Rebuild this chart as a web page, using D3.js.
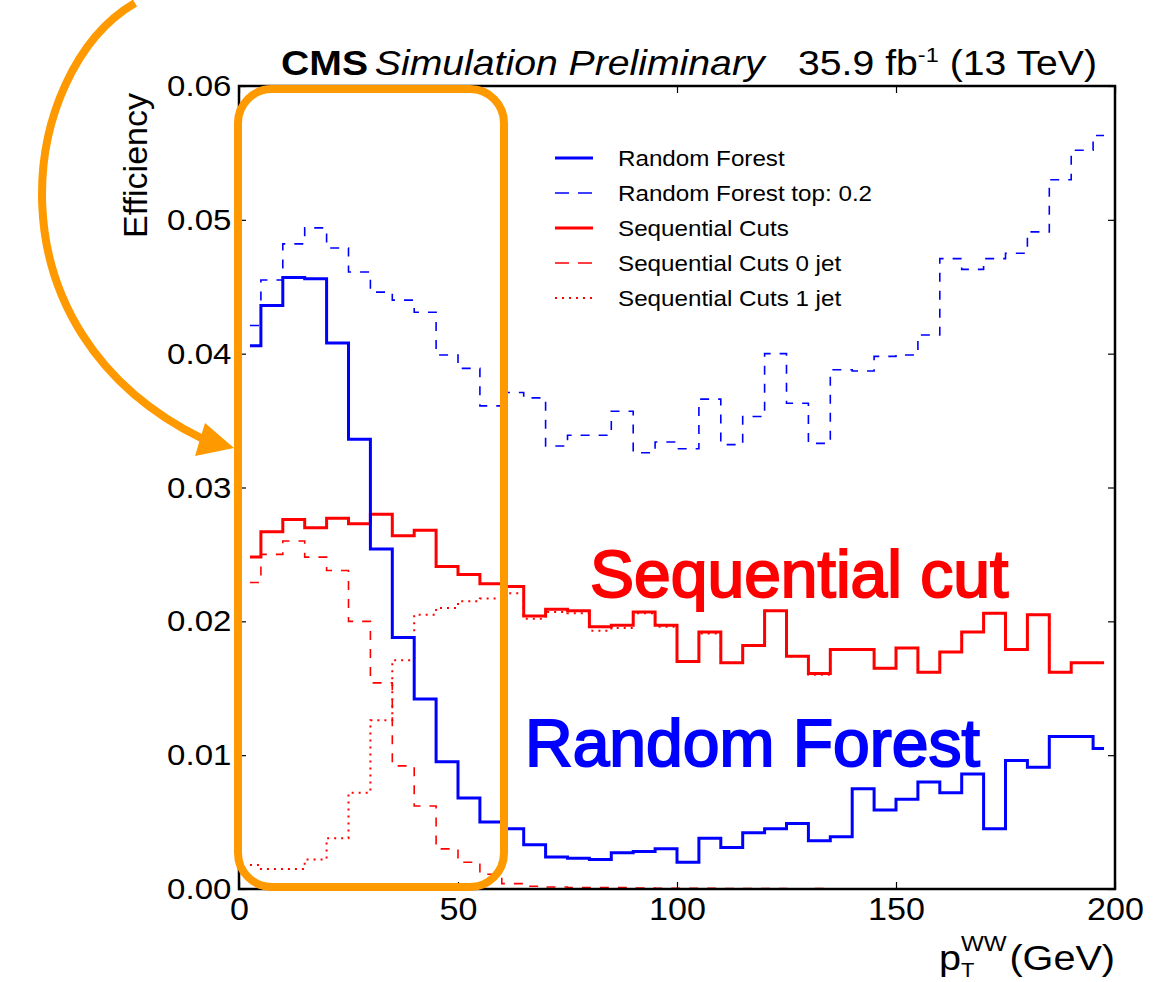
<!DOCTYPE html>
<html>
<head>
<meta charset="utf-8">
<script src="https://cdn.jsdelivr.net/npm/d3@7"></script>
<style>
  body { margin: 0; background: #fff; }
  text { font-family: "Liberation Sans", Arial, Helvetica, sans-serif; }
</style>
</head>
<body>
<div class="canvas"></div>
<script>
// bin centres of pT(WW), 5 GeV bins
const ptCenters = [2.5, 7.5, 12.5, 17.5, 22.5, 27.5, 32.5, 37.5, 42.5, 47.5,
  52.5, 57.5, 62.5, 67.5, 72.5, 77.5, 82.5, 87.5, 92.5, 97.5,
  102.5, 107.5, 112.5, 117.5, 122.5, 127.5, 132.5, 137.5, 142.5, 147.5,
  152.5, 157.5, 162.5, 167.5, 172.5, 177.5, 182.5, 187.5, 192.5, 197.5]

const randomForest = [0.0406, 0.0436, 0.0457, 0.0456, 0.0408, 0.0336, 0.0254, 0.0188, 0.0142, 0.0095,
  0.0068, 0.0050, 0.0045, 0.0033, 0.0024, 0.0023, 0.0022, 0.0027, 0.0028, 0.0030,
  0.0020, 0.0038, 0.0031, 0.0042, 0.0045, 0.0049, 0.0036, 0.0039, 0.0075, 0.0059,
  0.0067, 0.0080, 0.0072, 0.0086, 0.0045, 0.0096, 0.0091, 0.0114, 0.0114, 0.0105]

const randomForestTop = [0.0421, 0.0455, 0.0482, 0.0494, 0.0479, 0.0461, 0.0446, 0.0440, 0.0431, 0.0399,
  0.0389, 0.0361, 0.0371, 0.0367, 0.0331, 0.0339, 0.0339, 0.0357, 0.0326, 0.0334,
  0.0329, 0.0366, 0.0332, 0.0353, 0.0400, 0.0363, 0.0333, 0.0388, 0.0387, 0.0398,
  0.0399, 0.0414, 0.0471, 0.0463, 0.0471, 0.0475, 0.0491, 0.0530, 0.0552, 0.0563]

const seqCuts = [0.0248, 0.0267, 0.0276, 0.0270, 0.0277, 0.0273, 0.0280, 0.0264, 0.0268, 0.0241,
  0.0235, 0.0228, 0.0226, 0.0204, 0.0209, 0.0208, 0.0196, 0.0197, 0.0207, 0.0197,
  0.0170, 0.0192, 0.0169, 0.0182, 0.0208, 0.0174, 0.0161, 0.0179, 0.0179, 0.0165,
  0.0180, 0.0162, 0.0177, 0.0192, 0.0206, 0.0179, 0.0205, 0.0162, 0.0169, 0.0169]

const seqCuts0jet = [0.0229, 0.0250, 0.0260, 0.0248, 0.0238, 0.0200, 0.0154, 0.0092, 0.0062, 0.0030,
  0.0020, 0.0011, 0.0004, 0.0002, 0.00015, 0.0001, 0.0001, 0.0001, 0.00008, 0.00006,
  0.00005, 0.00005, 0.00004, 0.00003, 0.00003, 0.00002, 0.00003, 0.00002, 0.00001, 0.00001,
  0, 0, 0, 0, 0, 0, 0, 0, 0, 0]

const seqCuts1jet = [0.0018, 0.0015, 0.0015, 0.0022, 0.0038, 0.0072, 0.0126, 0.0171, 0.0205, 0.0210,
  0.0215, 0.0217, 0.0221, 0.0202, 0.0207, 0.0206, 0.0193, 0.0195, 0.0206, 0.0196,
  0.0170, 0.0191, 0.0169, 0.0182, 0.0208, 0.0174, 0.0160, 0.0179, 0.0179, 0.0165,
  0.0180, 0.0162, 0.0177, 0.0192, 0.0206, 0.0179, 0.0205, 0.0162, 0.0169, 0.0169]

const xTicks = [0, 50, 100, 150, 200]
const yTicks = [0, 0.01, 0.02, 0.03, 0.04, 0.05, 0.06]

const dims = { width: 1170, height: 982 }
const plot = { left: 239, right: 1115, top: 86, bottom: 889 }
const STRETCH = 1.1 // the plot text is a bit wide in the original

const svg = d3.select('.canvas')
  .append('svg')
  .attr('width', dims.width)
  .attr('height', dims.height)

svg.append('rect').attr('width', dims.width).attr('height', dims.height).attr('fill', '#fff')

const x = d3.scaleLinear().domain([0, 200]).range([plot.left, plot.right])
const y = d3.scaleLinear().domain([0, 0.06]).range([plot.bottom, plot.top])

// axes, ticks pointing inwards
const styleAxis = (g, fontSize) => {
  g.select('.domain').remove()
  g.selectAll('.tick line').attr('stroke', '#000').attr('stroke-width', 1.2)
  g.selectAll('.tick text')
    .attr('font-size', fontSize)
    .attr('fill', '#000')
    .attr('font-family', '"Liberation Sans", Arial, sans-serif')
    .attr('transform', `scale(${STRETCH},1)`)
}
const noLabel = () => ''

svg.append('g')
  .attr('transform', `translate(${plot.left},0)`)
  .call(d3.axisLeft(y).tickValues(yTicks).tickSize(-7).tickPadding(7).tickFormat(d3.format('.2f')))
  .call(g => styleAxis(g, 30))

svg.append('g')
  .attr('transform', `translate(${plot.right},0)`)
  .call(d3.axisRight(y).tickValues(yTicks).tickSize(-7).tickFormat(noLabel))
  .call(g => styleAxis(g, 30))

svg.append('g')
  .attr('transform', `translate(0,${plot.bottom})`)
  .call(d3.axisBottom(x).tickValues(xTicks).tickSize(-7).tickPadding(9).tickFormat(d3.format('d')))
  .call(g => styleAxis(g, 31))

svg.append('g')
  .attr('transform', `translate(0,${plot.top})`)
  .call(d3.axisTop(x).tickValues(xTicks).tickSize(-7).tickFormat(noLabel))
  .call(g => styleAxis(g, 30))

// histograms, drawn as steps around the bin centres
const step = d3.line()
  .x((d, i) => x(ptCenters[i]))
  .y(d => y(d))
  .curve(d3.curveStep)

const series = [
  { name: 'Random Forest', values: randomForest, color: '#0000ff', width: 3, dash: null },
  { name: 'Random Forest top: 0.2', values: randomForestTop, color: '#0000ff', width: 1.6, dash: '9,9' },
  { name: 'Sequential Cuts', values: seqCuts, color: '#ff0000', width: 3, dash: null },
  { name: 'Sequential Cuts 0 jet', values: seqCuts0jet, color: '#ff0000', width: 1.6, dash: '9,9' },
  { name: 'Sequential Cuts 1 jet', values: seqCuts1jet, color: '#ff0000', width: 2, dash: '2,5' }
]

const drawOrder = [3, 4, 2, 1, 0]
const graph = svg.append('g')
drawOrder.forEach(k => {
  const s = series[k]
  graph.append('path')
    .attr('class', 'line')
    .attr('fill', 'none')
    .attr('stroke', s.color)
    .attr('stroke-width', s.width)
    .attr('stroke-dasharray', s.dash)
    .attr('d', step(s.values))
})

// frame
svg.append('rect')
  .attr('x', plot.left).attr('y', plot.top)
  .attr('width', plot.right - plot.left).attr('height', plot.bottom - plot.top)
  .attr('fill', 'none').attr('stroke', '#000').attr('stroke-width', 2.5)

// legend
const legend = svg.append('g').attr('transform', 'translate(555,158)')
series.forEach((s, i) => {
  const row = legend.append('g').attr('transform', `translate(0,${i * 35})`)
  row.append('line')
    .attr('x1', 0).attr('x2', 38)
    .attr('stroke', s.color)
    .attr('stroke-width', s.width)
    .attr('stroke-dasharray', s.dash === '9,9' ? '14,9' : s.dash)
  row.append('text')
    .attr('transform', `translate(63,8) scale(${STRETCH},1)`)
    .attr('font-size', 22)
    .attr('fill', '#000')
    .text(s.name)
})

// axis titles
svg.append('text')
  .attr('transform', 'translate(147,93) rotate(-90)')
  .attr('text-anchor', 'end')
  .attr('font-size', 34)
  .text('Efficiency')

const xl = svg.append('g').attr('transform', `translate(0,970)`)
xl.append('text').attr('transform', `translate(1115,0) scale(${STRETCH},1)`)
  .attr('text-anchor', 'end').attr('font-size', 36).text('(GeV)')
xl.append('text').attr('transform', `translate(961,-19) scale(${STRETCH},1)`)
  .attr('font-size', 22).text('WW')
xl.append('text').attr('transform', `translate(961,7) scale(${STRETCH},1)`)
  .attr('font-size', 20).text('T')
xl.append('text').attr('transform', `translate(939,0) scale(${STRETCH},1)`)
  .attr('font-size', 36).text('p')

// CMS header
const HEAD = 1.12
const head = svg.append('text')
  .attr('transform', `translate(281,75) scale(${HEAD},1)`)
  .attr('font-size', 35)
head.append('tspan').attr('font-weight', 'bold').text('CMS')
head.append('tspan').attr('font-style', 'italic').attr('dx', 6).text('Simulation Preliminary')

const lumi = svg.append('text')
  .attr('transform', `translate(1097,75) scale(${HEAD},1)`)
  .attr('text-anchor', 'end')
  .attr('font-size', 35)
lumi.append('tspan').text('35.9 fb')
lumi.append('tspan').attr('font-size', 21).attr('dy', -13).text('-1')
lumi.append('tspan').attr('dy', 13).text(' (13 TeV)')

// annotations
const orange = '#ff9900'
svg.append('text')
  .attr('x', 590).attr('y', 597)
  .attr('font-size', 66)
  .attr('fill', '#ff0000').attr('stroke', '#ff0000').attr('stroke-width', 2)
  .text('Sequential cut')

svg.append('text')
  .attr('x', 525).attr('y', 766)
  .attr('font-size', 66)
  .attr('fill', '#0000ff').attr('stroke', '#0000ff').attr('stroke-width', 2)
  .text('Random Forest')

svg.append('rect')
  .attr('x', x(0) - 1).attr('y', 89)
  .attr('width', 266).attr('height', 887 - 89)
  .attr('rx', 34)
  .attr('fill', 'none').attr('stroke', orange).attr('stroke-width', 8)

svg.append('path')
  .attr('d', 'M135,3 C20,70 -20,330 203,439')
  .attr('fill', 'none').attr('stroke', orange).attr('stroke-width', 8)

svg.append('path')
  .attr('d', 'M234,448 L195,456 L205,423 Z')
  .attr('fill', orange)
</script>
</body>
</html>
